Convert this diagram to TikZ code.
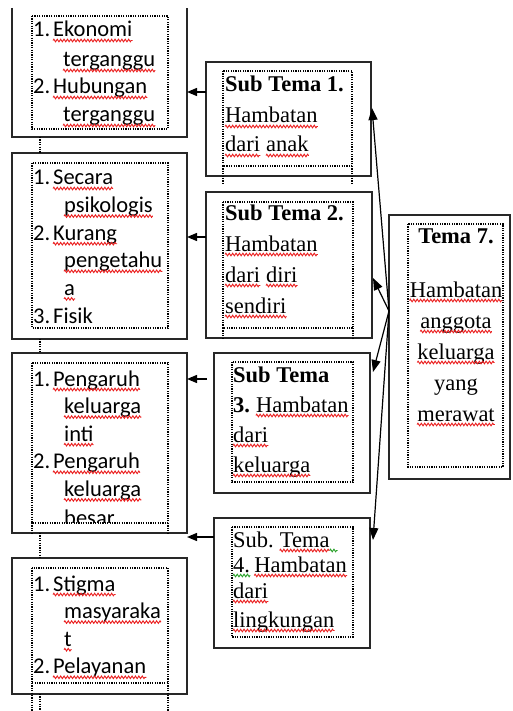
\documentclass[tikz,border=0pt]{standalone}
\usepackage{fontspec}
\setmainfont{Liberation Serif}
\newfontfamily\calibfont{Carlito}
\usetikzlibrary{arrows.meta,calc,decorations.pathmorphing}

\definecolor{spellred}{RGB}{235,30,30}
\definecolor{grammargreen}{RGB}{40,160,40}
\definecolor{boxgray}{RGB}{40,40,40}

\begin{document}
\begin{tikzpicture}[x=1pt,y=-1pt,
  box/.style={draw=boxgray, line width=1.8pt, rectangle, inner sep=0pt, outer sep=0pt},
  frame/.style={draw=black, line width=1.1pt, dash pattern=on 1.2pt off 1.2pt},
  larr/.style={draw=black, line width=1.3pt, -{Triangle[length=10pt,width=8pt]}},
  rarr/.style={draw=black, line width=1.2pt, -{Triangle[length=12pt,width=9pt]}},
  ltxt/.style={anchor=base west, inner sep=0pt, font=\calibfont\fontsize{22.5}{27}\selectfont},
  mtxt/.style={anchor=base west, inner sep=0pt, font=\fontsize{22.5}{27}\selectfont},
  ctxt/.style={anchor=base, inner sep=0pt, font=\fontsize{22.5}{27}\selectfont},
  wave/.style={draw=spellred, line width=0.9pt, decorate,
    decoration={zigzag, segment length=3.4pt, amplitude=1.3pt}},
  gwave/.style={wave, draw=grammargreen}]
\useasboundingbox (0,0) rectangle (512,711);
\fill[white] (0,0) rectangle (512,711);

% ---------- left column boxes ----------
\node[box, draw=none, minimum width=175pt, minimum height=129pt] (L1) at (99.5,72.5) {};
\draw[draw=boxgray, line width=1.8pt] (L1.north west) -- (L1.south west) -- (L1.south east) -- (L1.north east);
\node[box, minimum width=175pt, minimum height=186pt] (L2) at (99.5,246) {};
\node[box, minimum width=175pt, minimum height=180pt] (L3) at (99.5,443) {};
\node[box, minimum width=175pt, minimum height=136pt] (L4) at (99.5,626) {};

% dotted inner frames, left column
\draw[frame] (32,16) rectangle (168,129);
\draw[frame] (32,163) rectangle (168,328);
\draw[frame] (32,363) rectangle (168,523);
\draw[frame] (32,523) -- (32,533) (168,523) -- (168,533);
\draw[frame] (32,568) rectangle (168,683);
\draw[frame] (32,683) -- (32,711) (168,683) -- (168,711);

% dotted links between the left boxes
\draw[frame] ($(L1.south west)+(28,0)$) -- ($(L2.north west)+(28,0)$);
\draw[frame] ($(L2.south west)+(28,0)$) -- ($(L3.north west)+(28,0)$);
\draw[frame] ($(L3.south west)+(28,0)$) -- ($(L4.north west)+(28,0)$);
\draw[frame] ($(L4.south west)+(28,0)$) -- ++(0,17);

% ---------- middle column boxes ----------
\node[box, minimum width=165pt, minimum height=114pt] (M1) at (288.5,119) {};
\node[box, minimum width=166pt, minimum height=146pt] (M2) at (289,265) {};
\node[box, minimum width=156pt, minimum height=140pt] (M3) at (292,423) {};
\node[box, minimum width=156pt, minimum height=130pt] (M4) at (292,583) {};

\draw[frame] (223,71) rectangle (352,166);
\draw[frame] (223,166) -- (223,183) (352,166) -- (352,183);
\draw[frame] (223,202) rectangle (353,328);
\draw[frame] (223,328) -- (223,338) (353,328) -- (353,338);
\draw[frame] (232,362) rectangle (353,482);
\draw[frame] (232,527) rectangle (353,637);

% ---------- right box ----------
\node[box, minimum width=121pt, minimum height=264pt] (R) at (449.5,347) {};
\draw[frame] (408,224) rectangle (503,467);

% ---------- texts, left column ----------
\node[ltxt] (l1a) at (33,37) {1.};
\node[ltxt] (l1b) at (53,37) {Ekonomi};
\node[ltxt] (l1c) at (63,67) {terganggu};
\node[ltxt] (l1d) at (33,94) {2.};
\node[ltxt] (l1e) at (53,94) {Hubungan};
\node[ltxt] (l1f) at (63,122) {terganggu};

\node[ltxt] (l2a) at (33,185) {1.};
\node[ltxt] (l2b) at (53,185) {Secara};
\node[ltxt] (l2c) at (64,212.6) {psikologis};
\node[ltxt] (l2d) at (33,240.2) {2.};
\node[ltxt] (l2e) at (53,240.2) {Kurang};
\node[ltxt] (l2f) at (64,267.8) {pengetahu};
\node[ltxt] (l2g) at (64,295.4) {a};
\node[ltxt] (l2h) at (33,323) {3.};
\node[ltxt] (l2i) at (53,323) {Fisik};

\node[ltxt] (l3a) at (33,386) {1.};
\node[ltxt] (l3b) at (53,386) {Pengaruh};
\node[ltxt] (l3c) at (64,413.6) {keluarga};
\node[ltxt] (l3d) at (64,441.2) {inti};
\node[ltxt] (l3e) at (33,468.8) {2.};
\node[ltxt] (l3f) at (53,468.8) {Pengaruh};
\node[ltxt] (l3g) at (64,496.4) {keluarga};
\begin{scope}
  \clip (40,500) rectangle (160,522);
  \node[ltxt] (l3h) at (64,525) {besar};
\end{scope}

\node[ltxt] (l4a) at (33,591) {1.};
\node[ltxt] (l4b) at (53,591) {Stigma};
\node[ltxt] (l4c) at (64,618.6) {masyaraka};
\node[ltxt] (l4d) at (64,646.2) {t};
\node[ltxt] (l4e) at (33,673.8) {2.};
\node[ltxt] (l4f) at (53,673.8) {Pelayanan};

% ---------- texts, middle column ----------
\node[mtxt] (m1a) at (225,92) {\textbf{Sub Tema 1.}};
\node[mtxt] (m1b) at (225,123) {Hambatan};
\node[mtxt] (m1c) at (225,152) {dari};
\node[mtxt] (m1d) at ($(m1c.base east)+(5.6,0)$) {anak};

\node[mtxt] (m2a) at (225,220) {\textbf{Sub Tema 2.}};
\node[mtxt] (m2b) at (225,251) {Hambatan};
\node[mtxt] (m2c) at (225,282) {dari};
\node[mtxt] (m2d) at ($(m2c.base east)+(5.6,0)$) {diri};
\node[mtxt] (m2e) at (225,313) {sendiri};

\node[mtxt] (m3a) at (233,382) {\textbf{Sub Tema}};
\node[mtxt] (m3b) at (233,412) {\textbf{3.}};
\node[mtxt] (m3c) at ($(m3b.base east)+(5.6,0)$) {Hambatan};
\node[mtxt] (m3d) at (233,442) {dari};
\node[mtxt] (m3e) at (233,472) {keluarga};

\node[mtxt] (m4a) at (233,547) {Sub.};
\node[mtxt] (m4b) at ($(m4a.base east)+(5.6,0)$) {Tema};
\node[mtxt] (m4c) at (233,572) {4.};
\node[mtxt] (m4d) at ($(m4c.base east)+(4,0)$) {Hambatan};
\node[mtxt] (m4e) at (233,598) {dari};
\node[mtxt] (m4f) at (233,627) {lingkungan};

% ---------- texts, right box ----------
\node[ctxt] (r1) at (456,243) {\textbf{Tema 7.}};
\node[ctxt] (r2) at (456,297) {Hambatan};
\node[ctxt] (r3) at (456,328) {anggota};
\node[ctxt] (r4) at (456,359) {keluarga};
\node[ctxt] (r5) at (456,390) {yang};
\node[ctxt] (r6) at (456,421) {merawat};

% ---------- spelling and grammar underlines ----------
\foreach \w in {l1b,l1c,l1e,l1f,l2b,l2c,l2e,l2f,l2g,l3b,l3c,l3d,l3f,l3g,
                l4b,l4c,l4d,l4f,m1b,m1c,m1d,m2b,m2c,m2d,m2e,m3c,m3d,m3e,
                m4b,m4d,m4e,m4f,r2,r3,r4,r6}
  \draw[wave] ($(\w.base west)+(0,3.5)$) -- ($(\w.base east)+(0,3.5)$);
\draw[gwave] ($(m4b.base east)+(0,3.5)$) -- ++(8,0);
\draw[gwave] ($(m4c.base west)+(0,3.5)$) -- ($(m4c.base east)+(0,3.5)$);

% ---------- connectors: middle to left ----------
\coordinate (a1) at ($(M1.north west)+(0,30)$);
\coordinate (a2) at ($(M2.north west)+(0,45)$);
\coordinate (a3) at ($(M3.north west)+(-7,26)$);
\coordinate (a4) at ($(M4.north west)+(0,19)$);
\draw[larr] (a1) -- (a1 -| L1.east);
\draw[larr] (a2) -- (a2 -| L2.east);
\draw[larr] (a3) -- (a3 -| L3.east);
\draw[larr] (a4) -- (a4 -| L4.east);

% ---------- connectors: theme to sub-themes ----------
\coordinate (hub) at ($(R.north west)+(0,96)$);
\draw[rarr] (hub) -- ($(M1.east)+(1,-11)$);
\draw[rarr] (hub) -- ($(M2.east)+(1,13)$);
\draw[rarr] (hub) -- ($(M3.north east)+(3,19)$);
\draw[rarr] (hub) -- ($(M4.north east)+(3,22)$);
\end{tikzpicture}
\end{document}
